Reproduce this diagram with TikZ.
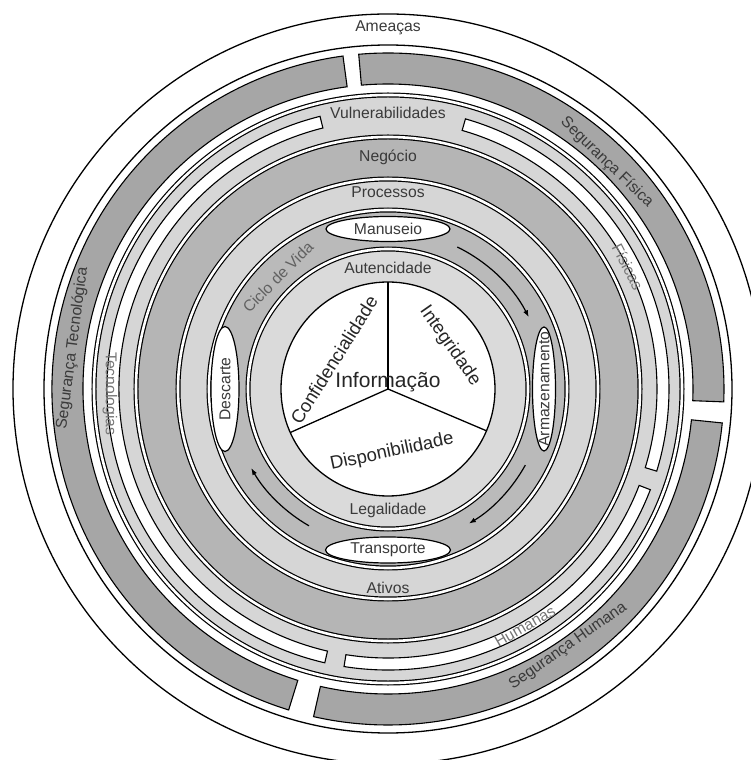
\documentclass[tikz,border=0pt]{standalone}
\usepackage{fontspec}
\setmainfont{Liberation Sans}
\usetikzlibrary{arrows.meta, shapes.geometric}
\definecolor{segdark}{HTML}{A6A6A6}
\definecolor{vulnfill}{HTML}{D6D6D6}
\definecolor{negfill}{HTML}{B5B5B5}
\definecolor{procfill}{HTML}{D6D6D6}
\definecolor{ciclofill}{HTML}{BABABA}
\definecolor{autfill}{HTML}{DADADA}
\definecolor{inkgray}{HTML}{3A3A3A}
\definecolor{softgray}{HTML}{767676}
\tikzset{
  >=Latex,
  ring/.style={draw=black, double=white, line width=1.2pt, double distance=2.6pt},
  rim/.style={draw=black, line width=1.3pt},
  band/.style={draw=black, line width=1.1pt, fill=#1},
  band/.default=segdark,
  oval/.style={ellipse, draw=black, line width=1.2pt, fill=white, inner sep=0pt,
    font=\fontsize{15.7}{18}\selectfont, text=inkgray},
  lab/.style={font=\fontsize{15.7}{18}\selectfont, text=#1, inner sep=0pt},
  lab/.default=inkgray,
  core/.style={font=\fontsize{18.5}{21}\selectfont, text=black!85, inner sep=0pt},
  cycarrow/.style={-{Latex[length=7pt,width=5pt]}, line width=1.2pt, draw=black}
}

\begin{document}
\begin{tikzpicture}[x=1pt, y=1pt]
  \useasboundingbox (-388,-371) rectangle (363,389);
  \coordinate (ctr) at (0,0);
  % threats ring
  \draw[rim, fill=white] (ctr) circle[radius=375];
  \draw[rim] (ctr) circle[radius=344];
  % security segments
  \foreach \a/\b in {95/-2.2, -5.8/-102.8, 252.8/97.7}
    \draw[band] (\a:336) arc[start angle=\a, end angle=\b, radius=336]
      -- (\b:305) arc[start angle=\b, end angle=\a, radius=305] -- cycle;
  % vulnerabilities band with its white segments
  \draw[ring, fill=vulnfill] (ctr) circle[radius=294];
  \foreach \a/\b in {74/-17, -21/-99, 257/104}
    \draw[band=white] (\a:281) arc[start angle=\a, end angle=\b, radius=281]
      -- (\b:269) arc[start angle=\b, end angle=\a, radius=269] -- cycle;
  % inner bands
  \foreach \r/\c in {252/negfill, 210/procfill, 179/ciclofill, 140/autfill}
    \draw[ring, fill=\c] (ctr) circle[radius=\r];
  \draw[rim, fill=white] (ctr) circle[radius=107];
  \coordinate (cTop) at (90:107);
  \coordinate (cLeft) at (204:107);
  \coordinate (cRight) at (337:107);
  \draw[rim] (ctr) -- (cTop);
  \draw[rim] (ctr) -- (cLeft);
  \draw[rim] (ctr) -- (cRight);
  % life cycle
  \node[oval, minimum width=124pt, minimum height=25pt] (manuseio) at (90:160) {Manuseio};
  \node[oval, minimum width=125pt, minimum height=26pt] (transporte) at (270:161) {Transporte};
  \node[oval, rotate=90, minimum width=125pt, minimum height=28pt] (descarte) at (180:163) {Descarte};
  \node[oval, rotate=90, minimum width=124pt, minimum height=23pt] (armaz) at (0:156) {};
  \node[lab, rotate=90] (armazlab) at (armaz) {Armazenamento};
  \coordinate (arrNE) at (64:158);
  \coordinate (arrSE) at (-29:157);
  \coordinate (arrSW) at (240:158);
  \draw[cycarrow] (arrNE) arc[start angle=64, end angle=27, radius=158];
  \draw[cycarrow] (arrSE) arc[start angle=-29, end angle=-59, radius=157];
  \draw[cycarrow] (arrSW) arc[start angle=240, end angle=210, radius=158];
  % labels
  \node[lab] (ameacas) at (0,361) {Ameaças};
  \node[lab] (vulner) at (0,276) {Vulnerabilidades};
  \node[lab] (negocio) at (0,232) {Negócio};
  \node[lab] (processos) at (0,197) {Processos};
  \node[lab] (autent) at (0,121) {Autencidade};
  \node[lab] (legal) at (0,-121) {Legalidade};
  \node[lab] (ativos) at (0,-199) {Ativos};
  \node[lab=inkgray!80, rotate=45] (ciclo) at (134.5:157) {Ciclo de Vida};
  \node[lab, rotate=-44] (segfis) at (46:315) {Segurança Física};
  \node[lab, rotate=35] (seghum) at (-55:314) {Segurança Humana};
  \node[lab, rotate=82.6] (segtec) at (172.6:318) {Segurança Tecnológica};
  \node[lab=softgray, rotate=-63] (fisicas) at (27:269) {Físicas};
  \node[lab=softgray, rotate=30] (humanas) at (-60:274) {Humanas};
  \node[lab=softgray, rotate=-90] (tecnol) at (181:278) {Tecnologias};
  % information core
  \node[core, font=\fontsize{21}{24}\selectfont] (info) at (0,7) {Informação};
  \node[core, rotate=58] (conf) at (-54,29) {Confidencialidade};
  \node[core, rotate=-55] (integ) at (62,43) {Integridade};
  \node[core, rotate=12] (dispo) at (4,-63) {Disponibilidade};
\end{tikzpicture}
\end{document}
